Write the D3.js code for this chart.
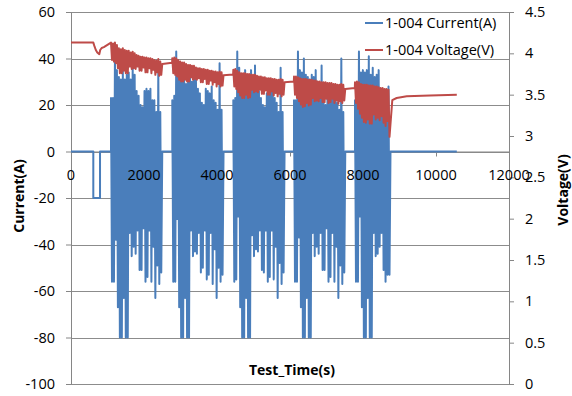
<!DOCTYPE html>
<html>
<head>
<meta charset="utf-8">
<script src="https://cdn.jsdelivr.net/npm/d3@7/dist/d3.min.js"></script>
<style>
  body { margin: 0; background: #fff; }
  text { font-family: 'Open Sans', sans-serif; fill: #000; }
</style>
</head>
<body>
<div id="chart"></div>
<script>
const timeTicks = [0, 2000, 4000, 6000, 8000, 10000, 12000];
const currentTicks = [-100, -80, -60, -40, -20, 0, 20, 40, 60];
const voltageTicks = [0, 0.5, 1, 1.5, 2, 2.5, 3, 3.5, 4, 4.5];
const seriesNames = ['1-004 Current(A)', '1-004 Voltage(V)'];
const seriesColors = ['#4a7ebb', '#be4b48'];

// rest and -20A pulse before the first drive cycle
const preTime = [0, 611, 611, 795, 795];
const preCurrent = [0, 0, -20, -20, 0];
const preVoltTime = [0, 611, 640, 680, 720, 775, 800, 840, 900];
const preVoltage = [4.13, 4.13, 4.09, 4.04, 4.01, 3.99, 4.04, 4.065, 4.075];

// drive cycles, one peak + one trough every sampleStep seconds
const sampleStep = 54;
const cycleStart = [1096, 2775, 4447, 6110, 7781];

const cycle1CurHi = [23, 23, 42, 35, 32, 31, 35, 31, 33, 34, 31, 36, 33, 26, 24, 20, 19, 26, 27, 26, 27, 22, 22, 17, 35, 17];
const cycle1CurLo = [-56, -56, -38, -67, -80, -80, -63, -80, -80, -35, -45, -41, -44, -34, -51, -51, -33, -56, -54, -34, -56, -41, -63, -49, -57, -52];
const cycle1VoltHi = [4.13, 4.12, 4.13, 4.10, 4.06, 4.05, 4.06, 4.04, 4.03, 4.03, 4.01, 4.02, 4.00, 3.98, 3.97, 3.96, 3.96, 3.95, 3.95, 3.94, 3.94, 3.93, 3.92, 3.91, 3.93, 3.90];
const cycle1VoltLo = [3.92, 3.90, 3.88, 3.82, 3.76, 3.76, 3.79, 3.76, 3.76, 3.84, 3.81, 3.82, 3.81, 3.84, 3.79, 3.79, 3.83, 3.77, 3.77, 3.82, 3.76, 3.80, 3.74, 3.77, 3.73, 3.74];

const cycle2CurHi = [22, 24, 43, 34, 33, 30, 34, 29, 31, 33, 30, 35, 32, 27, 25, 21, 20, 27, 26, 25, 28, 22, 21, 18, 38, 18];
const cycle2CurLo = [-56, -56, -29, -67, -80, -80, -63, -80, -80, -34, -45, -43, -44, -35, -52, -50, -34, -55, -53, -35, -57, -42, -63, -50, -56, -53];
const cycle2VoltHi = [3.94, 3.95, 3.94, 3.92, 3.90, 3.89, 3.89, 3.87, 3.86, 3.86, 3.85, 3.85, 3.83, 3.82, 3.82, 3.81, 3.81, 3.80, 3.80, 3.79, 3.79, 3.78, 3.78, 3.77, 3.78, 3.77];
const cycle2VoltLo = [3.76, 3.74, 3.72, 3.68, 3.66, 3.66, 3.68, 3.66, 3.66, 3.71, 3.68, 3.69, 3.68, 3.70, 3.65, 3.65, 3.69, 3.63, 3.63, 3.67, 3.62, 3.65, 3.60, 3.63, 3.60, 3.61];

const cycle3CurHi = [22, 23, 43, 36, 31, 32, 35, 30, 32, 35, 31, 37, 32, 26, 23, 20, 19, 25, 27, 27, 26, 23, 21, 17, 36, 17];
const cycle3CurLo = [-56, -55, -28, -67, -80, -80, -63, -80, -80, -36, -45, -42, -43, -34, -51, -52, -34, -56, -54, -34, -55, -41, -63, -48, -57, -52];
const cycle3VoltHi = [3.80, 3.81, 3.79, 3.77, 3.76, 3.76, 3.76, 3.75, 3.75, 3.74, 3.74, 3.74, 3.73, 3.72, 3.72, 3.71, 3.71, 3.70, 3.70, 3.70, 3.69, 3.69, 3.68, 3.68, 3.69, 3.68];
const cycle3VoltLo = [3.60, 3.57, 3.53, 3.49, 3.46, 3.46, 3.50, 3.46, 3.47, 3.56, 3.53, 3.54, 3.53, 3.56, 3.51, 3.51, 3.55, 3.50, 3.50, 3.54, 3.49, 3.52, 3.48, 3.51, 3.48, 3.50];

const cycle4CurHi = [22, 22, 43, 35, 34, 40, 33, 32, 31, 33, 32, 35, 30, 25, 37, 21, 20, 25, 26, 24, 26, 22, 21, 18, 40, 17];
const cycle4CurLo = [-56, -56, -37, -67, -80, -80, -63, -80, -80, -35, -45, -41, -44, -35, -51, -51, -33, -56, -54, -35, -56, -41, -63, -49, -57, -52];
const cycle4VoltHi = [3.72, 3.72, 3.71, 3.70, 3.69, 3.69, 3.69, 3.68, 3.68, 3.68, 3.67, 3.67, 3.66, 3.66, 3.65, 3.65, 3.65, 3.64, 3.64, 3.64, 3.63, 3.63, 3.62, 3.62, 3.63, 3.62];
const cycle4VoltLo = [3.50, 3.46, 3.42, 3.38, 3.35, 3.36, 3.40, 3.37, 3.38, 3.46, 3.42, 3.43, 3.42, 3.46, 3.41, 3.41, 3.45, 3.40, 3.41, 3.45, 3.40, 3.43, 3.39, 3.42, 3.40, 3.43];

const cycle5CurHi = [22, 22, 43, 34, 35, 34, 35, 41, 33, 36, 32, 33, 35, 27, 25, 23, 24, 28];
const cycle5CurLo = [-56, -56, -28, -67, -80, -80, -63, -80, -80, -35, -45, -44, -41, -35, -51, -56, -53, -53];
const cycle5VoltHi = [3.65, 3.66, 3.65, 3.63, 3.62, 3.62, 3.62, 3.61, 3.61, 3.61, 3.60, 3.60, 3.59, 3.58, 3.58, 3.57, 3.57, 3.56];
const cycle5VoltLo = [3.40, 3.33, 3.27, 3.22, 3.17, 3.16, 3.20, 3.15, 3.15, 3.26, 3.20, 3.22, 3.19, 3.24, 3.16, 3.12, 3.18, 2.99];

// rest voltage between cycles (start, end)
const restVoltStart = [3.87, 3.735, 3.65, 3.57];
const restVoltEnd = [3.885, 3.745, 3.66, 3.58];

// recovery after the last cycle
const recoveryTime = [8803, 8922, 9197, 9835, 10570];
const recoveryVoltage = [3.435, 3.46, 3.48, 3.49, 3.50];
const endTime = 10570;

const margin = { top: 12, right: 63, bottom: 12, left: 71 };
const width = 572 - margin.left - margin.right;
const height = 396 - margin.top - margin.bottom;

const svg = d3.select('#chart')
  .append('svg')
  .attr('width', 572)
  .attr('height', 396)
  .append('g')
  .attr('transform', `translate(${margin.left}, ${margin.top})`);

const x = d3.scaleLinear().domain([0, 12000]).range([0, width]);
const yCur = d3.scaleLinear().domain([-100, 60]).range([height, 0]);
const yVolt = d3.scaleLinear().domain([0, 4.5]).range([height, 0]);

// build the two series
const cycles = [
  [cycle1CurHi, cycle1CurLo, cycle1VoltHi, cycle1VoltLo],
  [cycle2CurHi, cycle2CurLo, cycle2VoltHi, cycle2VoltLo],
  [cycle3CurHi, cycle3CurLo, cycle3VoltHi, cycle3VoltLo],
  [cycle4CurHi, cycle4CurLo, cycle4VoltHi, cycle4VoltLo],
  [cycle5CurHi, cycle5CurLo, cycle5VoltHi, cycle5VoltLo]
];

const currentData = preTime.map((t, i) => ({ t: t, v: preCurrent[i] }));
const voltageData = preVoltTime.map((t, i) => ({ t: t, v: preVoltage[i] }));

cycles.forEach((c, k) => {
  const t0 = cycleStart[k];
  currentData.push({ t: t0, v: 0 });
  c[0].forEach((hi, i) => {
    const t = t0 + i * sampleStep;
    currentData.push({ t: t, v: hi });
    currentData.push({ t: t + sampleStep / 2, v: c[1][i] });
    voltageData.push({ t: t, v: c[2][i] });
    voltageData.push({ t: t + sampleStep / 2, v: c[3][i] });
  });
  const tEnd = t0 + c[0].length * sampleStep;
  currentData.push({ t: tEnd, v: 0 });
  if (k < restVoltStart.length) {
    voltageData.push({ t: tEnd, v: restVoltStart[k] });
    voltageData.push({ t: cycleStart[k + 1] - 5, v: restVoltEnd[k] });
  }
});
currentData.push({ t: endTime, v: 0 });
recoveryTime.forEach((t, i) => voltageData.push({ t: t, v: recoveryVoltage[i] }));

// gridlines
svg.append('g')
  .selectAll('line')
  .data(currentTicks)
  .join('line')
  .attr('x1', 0)
  .attr('x2', width)
  .attr('y1', d => Math.round(yCur(d)) + 0.5)
  .attr('y2', d => Math.round(yCur(d)) + 0.5)
  .attr('stroke', '#8c8c8c')
  .attr('stroke-width', 1);

// axes (lines + ticks)
const axisLeft = svg.append('g')
  .call(d3.axisLeft(yCur).tickValues(currentTicks).tickSize(5).tickSizeOuter(0).tickPadding(11));
const axisRight = svg.append('g')
  .attr('transform', `translate(${width}, 0)`)
  .call(d3.axisRight(yVolt).tickValues(voltageTicks).tickSize(5).tickSizeOuter(0).tickPadding(11)
    .tickFormat(d3.format('')));
const axisBottom = svg.append('g')
  .attr('transform', `translate(0, ${yCur(0)})`)
  .call(d3.axisBottom(x).tickValues(timeTicks).tickSize(5).tickSizeOuter(0).tickPadding(13)
    .tickFormat(d3.format('d')));

[axisLeft, axisRight, axisBottom].forEach(a => {
  a.selectAll('.domain, .tick line').attr('stroke', '#868686');
  a.selectAll('text').remove();
});

// series
const line = (scale) => d3.line()
  .x(d => x(d.t))
  .y(d => scale(d.v));

svg.append('path')
  .datum(currentData)
  .attr('fill', 'none')
  .attr('stroke', seriesColors[0])
  .attr('stroke-width', 2)
  .attr('stroke-linejoin', 'round')
  .attr('d', line(yCur));

svg.append('path')
  .datum(voltageData)
  .attr('fill', 'none')
  .attr('stroke', seriesColors[1])
  .attr('stroke-width', 2)
  .attr('stroke-linejoin', 'round')
  .attr('d', line(yVolt));

// tick labels on top of the series
const labels = svg.append('g').style('font-size', '14.5px');

labels.selectAll('.ly')
  .data(currentTicks)
  .join('text')
  .attr('x', -16)
  .attr('y', d => yCur(d))
  .attr('dy', '0.35em')
  .attr('text-anchor', 'end')
  .text(d => d);

labels.selectAll('.ry')
  .data(voltageTicks)
  .join('text')
  .attr('x', width + 16)
  .attr('y', d => yVolt(d))
  .attr('dy', '0.35em')
  .attr('text-anchor', 'start')
  .text(d => d);

labels.selectAll('.bx')
  .data(timeTicks)
  .join('text')
  .attr('x', d => x(d))
  .attr('y', yCur(0) + 23)
  .attr('dy', '0.35em')
  .attr('text-anchor', 'middle')
  .text(d => d);

// axis titles
svg.append('text')
  .attr('transform', `translate(${23.5 - margin.left}, ${196 - margin.top}) rotate(-90)`)
  .attr('text-anchor', 'middle')
  .style('font-size', '14px')
  .style('font-weight', 'bold')
  .text('Current(A)');

svg.append('text')
  .attr('transform', `translate(${568 - margin.left}, ${190 - margin.top}) rotate(-90)`)
  .attr('text-anchor', 'middle')
  .style('font-size', '14px')
  .style('font-weight', 'bold')
  .text('Voltage(V)');

svg.append('text')
  .attr('x', width / 2 + 2)
  .attr('y', 370 - margin.top)
  .attr('dy', '0.35em')
  .attr('text-anchor', 'middle')
  .style('font-size', '14px')
  .style('font-weight', 'bold')
  .text('Test_Time(s)');

// legend
const legend = svg.append('g')
  .attr('transform', `translate(${365 - margin.left}, ${23 - margin.top})`);

legend.selectAll('line')
  .data(seriesNames)
  .join('line')
  .attr('x1', 0)
  .attr('x2', 18)
  .attr('y1', (d, i) => i * 27)
  .attr('y2', (d, i) => i * 27)
  .attr('stroke', (d, i) => seriesColors[i])
  .attr('stroke-width', 2);

legend.selectAll('text')
  .data(seriesNames)
  .join('text')
  .attr('x', 20)
  .attr('y', (d, i) => i * 27)
  .attr('dy', '0.35em')
  .style('font-size', '14.5px')
  .text(d => d);
</script>
</body>
</html>
